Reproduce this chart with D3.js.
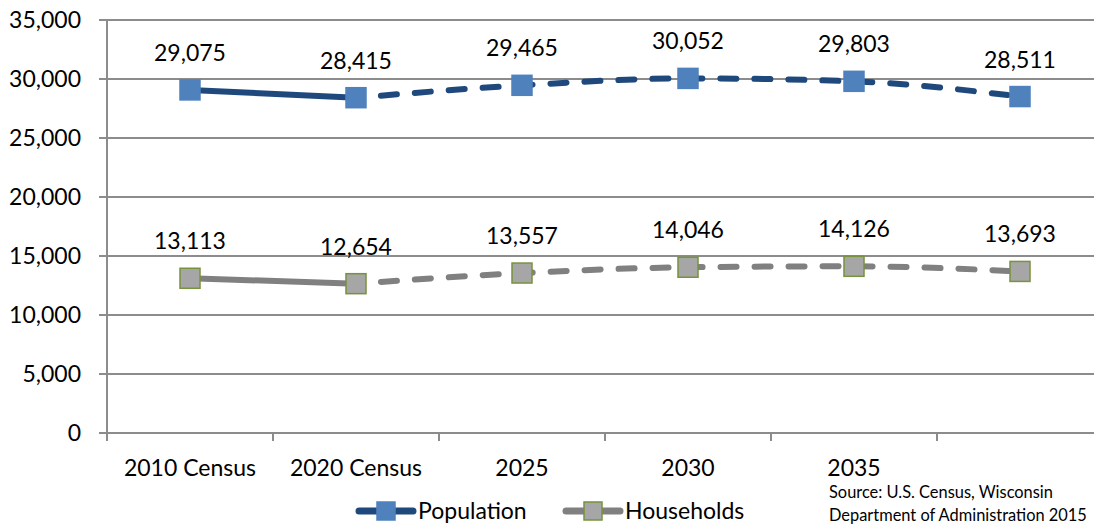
<!DOCTYPE html>
<html>
<head>
<meta charset="utf-8">
<script src="https://cdn.jsdelivr.net/npm/d3@7/dist/d3.min.js"></script>
<style>
  html, body { margin: 0; padding: 0; background: #fff; }
  svg { display: block; font-family: Lato, "Liberation Sans", sans-serif; }
</style>
</head>
<body>
<svg id="chart" width="1094" height="527"></svg>
<script>
// Category labels along the x axis (last period is left unlabeled)
const categories = ["2010 Census", "2020 Census", "2025", "2030", "2035", ""];
// Series values
const population = [29075, 28415, 29465, 30052, 29803, 28511];
const households = [13113, 12654, 13557, 14046, 14126, 13693];
// Y axis ticks
const yTicks = [0, 5000, 10000, 15000, 20000, 25000, 30000, 35000];

const svg = d3.select("#chart");
const fmt = d3.format(",");

const x = d3.scaleBand().domain(categories).range([107, 1103]);
const y = d3.scaleLinear().domain([0, 35000]).range([433, 20]);
const cx = c => x(c) + x.bandwidth() / 2;

// Horizontal gridlines
svg.append("g").selectAll("line").data(yTicks).join("line")
  .attr("x1", 99).attr("x2", 1094)
  .attr("y1", d => y(d)).attr("y2", d => y(d))
  .attr("stroke", "#8c8c8c").attr("stroke-width", 2);

// Y axis line and labels
svg.append("line").attr("x1", 107).attr("x2", 107).attr("y1", y(35000)).attr("y2", 441)
  .attr("stroke", "#8c8c8c").attr("stroke-width", 2);
svg.append("g").selectAll("text").data(yTicks).join("text")
  .attr("x", 81).attr("y", d => y(d) + 8)
  .attr("text-anchor", "end").attr("font-size", 23).attr("fill", "#000")
  .text(d => fmt(d));

// X axis tick marks at band edges
const edges = categories.map(c => x(c));
svg.append("g").selectAll("line").data(edges).join("line")
  .attr("x1", d => d).attr("x2", d => d).attr("y1", 433).attr("y2", 441)
  .attr("stroke", "#8c8c8c").attr("stroke-width", 2);
svg.append("g").selectAll("text").data(categories).join("text")
  .attr("x", d => cx(d)).attr("y", 476)
  .attr("text-anchor", "middle").attr("font-size", 23).attr("fill", "#000")
  .text(d => d);

const series = [
  { name: "Population", values: population, line: "#1f497d", fill: "#4f81bd", stroke: "#4f81bd" },
  { name: "Households", values: households, line: "#808080", fill: "#a6a6a6", stroke: "#77933c" }
];

const lineGen = d3.line().x(d => cx(d.c)).y(d => y(d.v)).curve(d3.curveMonotoneX);

series.forEach(s => {
  const pts = s.values.map((v, i) => ({ c: categories[i], v }));
  // Census actuals: solid segment
  svg.append("path").datum(pts.slice(0, 2))
    .attr("d", d3.line().x(d => cx(d.c)).y(d => y(d.v)))
    .attr("fill", "none").attr("stroke", s.line).attr("stroke-width", 6);
  // Projections: dashed segment
  svg.append("path").datum(pts.slice(1))
    .attr("d", lineGen)
    .attr("fill", "none").attr("stroke", s.line).attr("stroke-width", 6)
    .attr("stroke-linecap", "round").attr("stroke-dasharray", "16,18")
    .attr("stroke-dashoffset", -25);
  // Markers
  svg.append("g").selectAll("rect").data(pts).join("rect")
    .attr("x", d => cx(d.c) - 10).attr("y", d => y(d.v) - 10)
    .attr("width", 20).attr("height", 20)
    .attr("fill", s.fill).attr("stroke", s.stroke).attr("stroke-width", 1.5);
  // Value labels
  svg.append("g").selectAll("text").data(pts).join("text")
    .attr("x", d => cx(d.c)).attr("y", d => y(d.v) - 29)
    .attr("text-anchor", "middle").attr("font-size", 23).attr("fill", "#000")
    .text(d => fmt(d.v));
});

// Legend
const legendItems = [
  { s: series[0], x0: 355 },
  { s: series[1], x0: 562 }
];
legendItems.forEach(({ s, x0 }) => {
  const g = svg.append("g").attr("transform", `translate(${x0},511)`);
  g.append("line").attr("x1", 4).attr("x2", 58).attr("y1", 0).attr("y2", 0)
    .attr("stroke", s.line).attr("stroke-width", 7).attr("stroke-linecap", "round");
  g.append("rect").attr("x", 22).attr("y", -9).attr("width", 18).attr("height", 18)
    .attr("fill", s.fill).attr("stroke", s.stroke).attr("stroke-width", 1.5);
  g.append("text").attr("x", 63).attr("y", 8).attr("font-size", 23).attr("fill", "#000")
    .text(s.name);
});

// Source note
const src = svg.append("text").attr("x", 829).attr("font-size", 16.4).attr("fill", "#000");
src.append("tspan").attr("x", 829).attr("y", 498).text("Source: U.S. Census, Wisconsin");
src.append("tspan").attr("x", 829).attr("y", 521).text("Department of Administration 2015");
</script>
</body>
</html>
